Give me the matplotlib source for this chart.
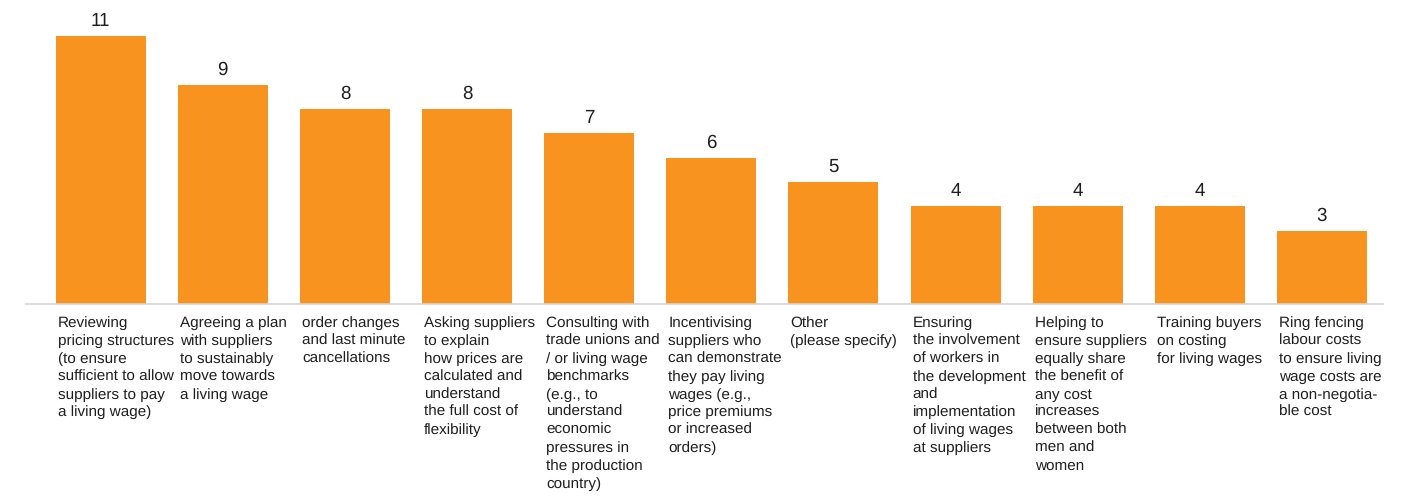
import matplotlib.pyplot as plt

plt.rcParams['font.family'] = ['Liberation Sans', 'DejaVu Sans']
plt.rcParams['text.hinting'] = 'no_hinting'

categories = [
    "Reviewing\npricing structures\n(to ensure\nsufficient to allow\nsuppliers to pay\na living wage)",
    "Agreeing a plan\nwith suppliers\nto sustainably\nmove towards\na living wage",
    "order changes\nand last minute\ncancellations",
    "Asking suppliers\nto explain\nhow prices are\ncalculated and\nunderstand\nthe full cost of\nflexibility",
    "Consulting with\ntrade unions and\n/ or living wage\nbenchmarks\n(e.g., to\nunderstand\neconomic\npressures in\nthe production\ncountry)",
    "Incentivising\nsuppliers who\ncan demonstrate\nthey pay living\nwages (e.g.,\nprice premiums\nor increased\norders)",
    "Other\n(please specify)",
    "Ensuring\nthe involvement\nof workers in\nthe development\nand\nimplementation\nof living wages\nat suppliers",
    "Helping to\nensure suppliers\nequally share\nthe benefit of\nany cost\nincreases\nbetween both\nmen and\nwomen",
    "Training buyers\non costing\nfor living wages",
    "Ring fencing\nlabour costs\nto ensure living\nwage costs are\na non-negotia-\nble cost",
]
counts = [11, 9, 8, 8, 7, 6, 5, 4, 4, 4, 3]

bar_color = "#F7931E"
text_color = "#1E1E1E"
bar_width = 0.737

fig = plt.figure(figsize=(14.04, 4.99), dpi=100)
ax = fig.add_axes([0.0185, 0.3908, 0.9665, 0.6092])

positions = list(range(len(counts)))
bars = ax.bar(positions, counts, width=bar_width, color=bar_color, zorder=2)

# value above each bar
for rect, value in zip(bars, counts):
    ax.annotate(str(value),
                xy=(rect.get_x() + rect.get_width() / 2, rect.get_height()),
                xytext=(0, 4.5), textcoords="offset points",
                ha="center", va="bottom", fontsize=13.5, color=text_color)

# category text under each bar, aligned to the bar's left edge
for rect, label in zip(bars, categories):
    ax.annotate(label,
                xy=(rect.get_x(), 0),
                xytext=(1.5, -9), textcoords="offset points",
                ha="left", va="top", fontsize=11, color=text_color,
                linespacing=1.35, annotation_clip=False)

ax.set_xlim(-0.612, 10.5)
ax.set_ylim(0, 12.47)
ax.set_xticks([])
ax.set_yticks([])
for side in ["top", "right", "left"]:
    ax.spines[side].set_visible(False)
ax.spines["bottom"].set_color("#D4D4D4")
ax.spines["bottom"].set_linewidth(1.2)

fig.savefig("out.png", dpi=100)
